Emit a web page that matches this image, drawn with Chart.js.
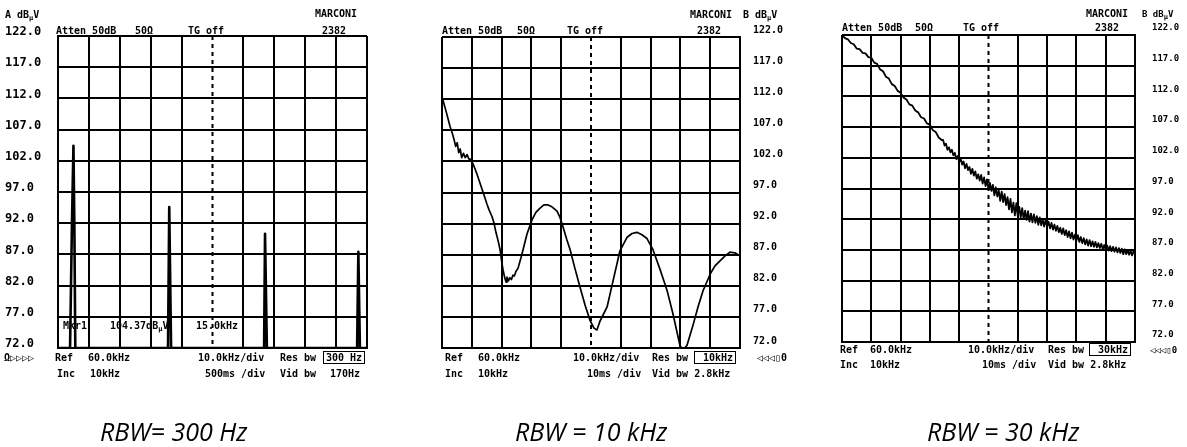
<!DOCTYPE html>
<html>
<head>
<meta charset="utf-8">
<script src="https://cdn.jsdelivr.net/npm/chart.js@4/dist/chart.umd.min.js"></script>
<style>
  html,body{margin:0;padding:0;background:#fff;}
  #wrap{position:relative;width:1187px;height:447px;overflow:hidden;background:#fff;}
  canvas{position:absolute;left:0;top:0;}
  .t{position:absolute;font-family:"DejaVu Sans Mono",monospace;font-weight:bold;font-size:10px;line-height:12px;color:#000;white-space:pre;transform:translateY(-50%);z-index:5;}
  .s{font-size:9px;}
  .box{border:1.5px solid #000;padding:0 2px;}
  .cap{position:absolute;font-family:"Open Sans",sans-serif;font-style:italic;font-size:25px;line-height:30px;color:#000;white-space:pre;transform:translateY(-50%);z-index:5;}
  .mu{font-size:7px;position:relative;top:2px;}
</style>
</head>
<body>
<div id="wrap">
  <canvas id="c1" width="1187" height="447"></canvas>
  <canvas id="c2" width="1187" height="447"></canvas>
  <canvas id="c3" width="1187" height="447"></canvas>
</div>
<script>
// ---------- DATA ----------
// axis ranges (dBµV and kHz)
const Y_MIN = 72, Y_MAX = 122, Y_STEP = 5;
const X_MIN = 10, X_MAX = 110, X_STEP = 10, X_CENTER = 60;

// Panel 1: RBW = 300 Hz (discrete spectral lines)
const p1x = [10, 13.9, 14.5, 15.0, 15.3, 15.6, 45.6, 46.0, 46.2, 46.6, 76.7, 77.0, 77.2, 77.6, 106.8, 107.2, 107.4, 107.7, 110];
const p1y = [72, 72, 91.5, 104.4, 91.5, 72, 72, 94.6, 94.6, 72, 72, 90.3, 90.3, 72, 72, 87.4, 87.4, 72, 72];

// Panel 2: RBW = 10 kHz
const p2x = [10, 10.7, 11.4, 12.0, 12.7, 13.4, 14.0, 14.6, 15.1, 15.6,
  16.1, 16.6, 17.2, 17.8, 18.4, 19.0, 19.7, 20.4, 21.0, 21.7,
  22.4, 23.1, 23.8, 24.5, 25.1, 25.8, 26.8, 27.5, 28.1, 28.8,
  29.5, 30.0, 30.5, 31.1, 31.5, 31.8, 32.3, 32.8, 33.3, 33.8,
  34.3, 34.8, 35.5, 36.5, 37.2, 38.5, 40.2, 41.5, 42.9, 44.2,
  45.6, 46.9, 48.6, 49.6, 50.6, 51.9, 53.0, 54.6, 56.3, 58.0,
  59.7, 61.0, 62.0, 63.0, 65.4, 67.4, 69.7, 72.1, 73.8, 75.4,
  77.1, 78.8, 80.8, 83.2, 85.5, 87.5, 89.9, 91.0, 92.2, 94.2,
  95.9, 97.6, 100.0, 101.6, 103.3, 105.0, 106.6, 108.3, 110.0];
const p2y = [112.4, 111.2, 110.0, 108.9, 107.6, 106.6, 105.6, 104.4, 105.0, 103.4,
  104.0, 102.6, 103.3, 102.6, 103.1, 102.4, 102.3, 101.6, 100.9, 100.0,
  99.0, 98.0, 97.0, 96.0, 95.1, 94.2, 93.1, 92.0, 90.6, 89.3,
  87.8, 86.0, 84.5, 83.2, 82.6, 83.4, 82.8, 83.3, 83.0, 83.7,
  83.6, 84.3, 84.8, 86.5, 87.8, 90.3, 92.6, 93.8, 94.5, 95.0,
  95.0, 94.7, 94.0, 93.0, 91.5, 89.4, 87.8, 84.8, 81.8, 78.9,
  76.4, 75.2, 74.9, 76.3, 78.6, 82.8, 87.6, 89.8, 90.4, 90.6,
  90.2, 89.6, 87.8, 84.6, 81.3, 77.5, 72.3, 71.8, 72.4, 75.6,
  78.6, 81.2, 83.9, 85.2, 86.0, 86.8, 87.4, 87.3, 86.8];

// Panel 3: RBW = 30 kHz
const p3x = [10, 11, 12, 13, 14, 15, 16, 17, 18, 19, 20, 21, 22, 23, 24, 25, 26, 27, 28, 29,
  30, 31, 32, 33, 34, 35, 36, 37, 38, 39, 40, 41, 42, 43,
  44, 44.5, 45, 45.5, 46, 46.5, 47, 47.5, 48, 48.5, 49, 49.5, 50, 50.5, 51, 51.5,
  52, 52.5, 53, 53.5, 54, 54.5, 55, 55.5, 56, 56.5, 57, 57.5, 58, 58.5, 59, 59.5,
  60, 60.5, 61, 61.5, 62, 62.5, 63, 63.5, 64, 64.5, 65, 65.5, 66, 66.5, 67, 67.5,
  68, 68.5, 69, 69.5, 70, 70.5, 71, 71.5, 72, 72.5, 73, 73.5, 74, 74.5, 75, 75.5,
  76, 76.5, 77, 77.5, 78, 78.5, 79, 79.5, 80, 80.5, 81, 81.5, 82, 82.5, 83, 83.5,
  84, 84.5, 85, 85.5, 86, 86.5, 87, 87.5, 88, 88.5, 89, 89.5, 90, 90.5, 91, 91.5,
  92, 92.5, 93, 93.5, 94, 94.5, 95, 95.5, 96, 96.5, 97, 97.5, 98, 98.5, 99, 99.5,
  100, 100.5, 101, 101.5, 102, 102.5, 103, 103.5, 104, 104.5, 105, 105.5, 106, 106.5,
  107, 107.5, 108, 108.5, 109, 109.5, 110];
const p3y = [122.0, 121.5, 121.3, 120.7, 120.5, 119.8, 119.7, 119.1, 119.0, 118.4, 118.3, 117.5, 117.3, 116.4, 116.1, 115.2, 114.9, 114.0, 113.7, 112.9,
  112.6, 111.8, 111.5, 110.7, 110.5, 109.7, 109.4, 108.6, 108.4, 107.6, 107.4, 106.5, 106.2, 105.3,
  104.9, 104.9, 104.0, 104.3, 103.3, 103.7, 102.9, 103.3, 102.4, 102.8, 101.8, 102.3, 101.3, 101.9, 100.9, 101.4,
  100.3, 101.0, 100.0, 100.5, 99.4, 100.2, 99.1, 99.8, 98.6, 99.3, 98.3, 99.2, 97.8, 98.8, 97.4, 98.5,
  96.9, 97.9, 96.6, 97.6, 95.9, 97.2, 95.7, 96.7, 95.0, 96.5, 94.8, 96.1, 94.3, 95.6, 93.6, 95.3,
  93.1, 94.7, 92.6, 94.6, 92.5, 94.0, 92.3, 93.8, 92.0, 93.4, 91.9, 93.3, 91.6, 92.9, 91.5, 92.8,
  91.4, 92.5, 91.1, 92.3, 91.0, 92.0, 90.8, 91.9, 90.8, 91.6, 90.5, 91.4, 90.3, 91.1, 90.1, 90.9,
  89.9, 90.6, 89.6, 90.5, 89.4, 90.2, 89.1, 90.0, 88.9, 89.8, 88.7, 89.5, 88.5, 89.4, 88.3, 89.1,
  88.1, 88.9, 87.9, 88.7, 87.7, 88.6, 87.6, 88.4, 87.5, 88.3, 87.4, 88.1, 87.3, 88.0, 87.1, 87.8,
  87.0, 87.7, 86.9, 87.6, 86.8, 87.5, 86.7, 87.4, 86.6, 87.3, 86.5, 87.2, 86.3, 87.1,
  86.3, 87.0, 86.2, 86.9, 86.1, 86.8, 86.4];

const captions = ['RBW= 300 Hz', 'RBW = 10 kHz', 'RBW = 30 kHz'];

// ---------- CHARTS ----------
const centerLine = {
  id: 'centerLine',
  beforeDatasetsDraw(chart) {
    const x = chart.scales.x.getPixelForValue(X_CENTER);
    const { top, bottom } = chart.chartArea;
    const c = chart.ctx;
    c.save();
    c.strokeStyle = '#000';
    c.lineWidth = 2;
    c.setLineDash([4, 4]);
    c.beginPath();
    c.moveTo(x, top);
    c.lineTo(x, bottom);
    c.stroke();
    c.restore();
  }
};

function make(id, xs, ys, o) {
  return new Chart(document.getElementById(id), {
    type: 'line',
    data: {
      datasets: [{
        data: xs.map((x, i) => ({ x: x, y: ys[i] })),
        borderColor: '#000',
        borderWidth: o.lw,
        pointRadius: 0,
        tension: 0,
        fill: false,
        borderJoinStyle: 'round'
      }]
    },
    options: {
      responsive: false,
      animation: false,
      devicePixelRatio: 1,
      layout: { padding: o.pad },
      plugins: { legend: { display: false }, tooltip: { enabled: false } },
      scales: {
        x: {
          type: 'linear', min: X_MIN, max: X_MAX,
          ticks: { display: false, stepSize: X_STEP },
          grid: {
            color: (c) => (c.tick && c.tick.value === X_CENTER) ? 'rgba(0,0,0,0)' : '#000',
            lineWidth: 2, drawTicks: false
          },
          border: { color: '#000', width: 2 },
          afterFit: (s) => { s.height = 0; }
        },
        y: {
          position: o.side, min: Y_MIN, max: Y_MAX,
          ticks: {
            stepSize: Y_STEP,
            callback: (v) => Number(v).toFixed(1),
            color: '#000',
            font: { family: 'DejaVu Sans Mono', weight: 'bold', size: o.fs },
            padding: o.tp, labelOffset: o.lo, crossAlign: o.ca
          },
          grid: { color: '#000', lineWidth: 2, drawTicks: false },
          border: { color: '#000', width: 2 },
          afterFit: (s) => { s.width = o.aw; }
        }
      }
    },
    plugins: [centerLine]
  });
}

make('c1', p1x, p1y, { lw: 2.6, side: 'left', fs: 12, tp: 4, lo: -4, ca: 'far', aw: 53,
  pad: { left: 5, right: 820, top: 36, bottom: 99 } });
make('c2', p2x, p2y, { lw: 1.7, side: 'right', fs: 10, tp: 13, lo: -7, ca: 'near', aw: 45,
  pad: { left: 442, right: 402, top: 37, bottom: 99 } });
make('c3', p3x, p3y, { lw: 1.8, side: 'right', fs: 9, tp: 17, lo: -7, ca: 'near', aw: 45,
  pad: { left: 842, right: 7, top: 35, bottom: 105 } });

// ---------- TEXT ----------
const wrap = document.getElementById('wrap');
function txt(html, x, y, cls, extra) {
  const d = document.createElement('div');
  d.className = cls || 't';
  d.innerHTML = html;
  d.style.left = x + 'px';
  d.style.top = y + 'px';
  if (extra) d.style.cssText += extra;
  wrap.appendChild(d);
}
const MU = 'dB<span class="mu">µ</span>V';

// panel 1
txt('A ' + MU, 5, 15);
txt('MARCONI', 315, 14);
txt('Atten 50dB', 56, 31);
txt('50Ω', 135, 31);
txt('TG off', 188, 31);
txt('2382', 322, 31);
txt('Mkr1', 63, 326);
txt('104.37' + MU, 110, 326);
txt('15.0kHz', 196, 326);
txt('Ω▷▷▷▷', 4, 358);
txt('Ref', 55, 358);
txt('60.0kHz', 88, 358);
txt('Inc', 57, 374);
txt('10kHz', 90, 374);
txt('10.0kHz/div', 198, 358);
txt('Res bw', 280, 358);
txt('<span class="box">300 Hz</span>', 323, 358);
txt('500ms /div', 205, 374);
txt('Vid bw', 280, 374);
txt('170Hz', 330, 374);

// panel 2
txt('MARCONI', 690, 15);
txt('B ' + MU, 743, 15);
txt('Atten 50dB', 442, 31);
txt('50Ω', 517, 31);
txt('TG off', 567, 31);
txt('2382', 697, 31);
txt('Ref', 445, 358);
txt('60.0kHz', 478, 358);
txt('Inc', 445, 374);
txt('10kHz', 478, 374);
txt('10.0kHz/div', 573, 358);
txt('Res bw', 652, 358);
txt('<span class="box"> 10kHz</span>', 694, 358);
txt('10ms /div', 587, 374);
txt('Vid bw 2.8kHz', 652, 374);
txt('◁◁◁▯0', 757, 358);

// panel 3
txt('MARCONI', 1086, 14);
txt('<span class="s">B ' + MU + '</span>', 1142, 14);
txt('Atten 50dB', 842, 28);
txt('50Ω', 915, 28);
txt('TG off', 963, 28);
txt('2382', 1095, 28);
txt('Ref', 840, 350);
txt('60.0kHz', 870, 350);
txt('Inc', 840, 365);
txt('10kHz', 870, 365);
txt('10.0kHz/div', 968, 350);
txt('Res bw', 1048, 350);
txt('<span class="box"> 30kHz</span>', 1089, 350);
txt('10ms /div', 982, 365);
txt('Vid bw 2.8kHz', 1048, 365);
txt('<span class="s">◁◁◁▯0</span>', 1150, 350);

// captions
txt(captions[0], 100, 431, 'cap');
txt(captions[1], 515, 431, 'cap');
txt(captions[2], 927, 431, 'cap');
</script>
</body>
</html>
